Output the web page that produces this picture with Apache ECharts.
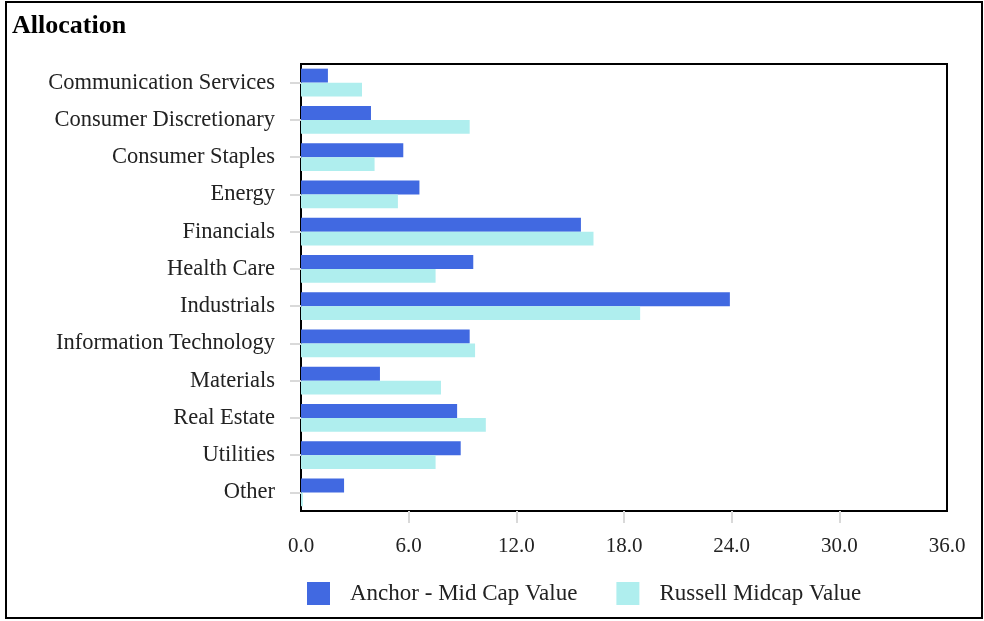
<!DOCTYPE html>
<html>
<head>
<meta charset="utf-8">
<script src="https://cdn.jsdelivr.net/npm/echarts@6/dist/echarts.min.js"></script>
<style>html,body{margin:0;padding:0;background:#fff}#c{width:984px;height:621px}</style>
</head>
<body>
<div id="c"></div>
<script>
const categories = ["Communication Services","Consumer Discretionary","Consumer Staples","Energy","Financials","Health Care","Industrials","Information Technology","Materials","Real Estate","Utilities","Other"];
const anchorValues = [1.5, 3.9, 5.7, 6.6, 15.6, 9.6, 23.9, 9.4, 4.4, 8.7, 8.9, 2.4];
const russellValues = [3.4, 9.4, 4.1, 5.4, 16.3, 7.5, 18.9, 9.7, 7.8, 10.3, 7.5, 0.1];
const seriesNames = ["Anchor - Mid Cap Value", "Russell Midcap Value"];
const xTicks = [6, 12, 18, 24, 30];

const font = "'Liberation Serif', 'DejaVu Serif', serif";
const chart = echarts.init(document.getElementById('c'), null, {renderer: 'canvas'});
chart.setOption({
  animation: false,
  backgroundColor: '#fff',
  title: {
    text: 'Allocation', left: 7, top: 8,
    textStyle: {fontFamily: font, fontSize: 26, fontWeight: 'bold', color: '#000'}
  },
  graphic: [{
    type: 'rect', shape: {x: 6, y: 2, width: 976, height: 616},
    style: {fill: 'none', stroke: '#000', lineWidth: 2}, silent: true, z: 100
  }],
  legend: {
    left: 302, top: 577, itemWidth: 23, itemHeight: 23, itemGap: 39,
    icon: 'rect',
    textStyle: {fontFamily: font, fontSize: 23, color: '#222', padding: [3, 0, 0, 15]},
    data: seriesNames
  },
  grid: {left: 301, top: 64, right: 37, bottom: 110, show: true, borderColor: '#000', borderWidth: 2, containLabel: false},
  xAxis: {
    type: 'value', min: 0, max: 36, interval: 6,
    axisLine: {show: false},
    splitLine: {show: false},
    axisTick: {show: true, length: 12, lineStyle: {color: '#d9d9d9', width: 2}, customValues: xTicks},
    axisLabel: {margin: 25, fontFamily: font, fontSize: 21, color: '#222', formatter: v => v.toFixed(1)}
  },
  yAxis: {
    type: 'category', data: categories, inverse: true,
    axisLine: {show: false},
    axisTick: {show: true, alignWithLabel: true, length: 11, lineStyle: {color: '#d9d9d9', width: 2}},
    axisLabel: {margin: 26, fontFamily: font, fontSize: 22.5, color: '#222'}
  },
  series: [
    {name: seriesNames[0], type: 'bar', data: anchorValues, itemStyle: {color: '#4169E1'}, barGap: '0%', barCategoryGap: '25%'},
    {name: seriesNames[1], type: 'bar', data: russellValues, itemStyle: {color: '#AFEEEE'}, barGap: '0%', barCategoryGap: '25%'}
  ]
});
</script>
</body>
</html>
